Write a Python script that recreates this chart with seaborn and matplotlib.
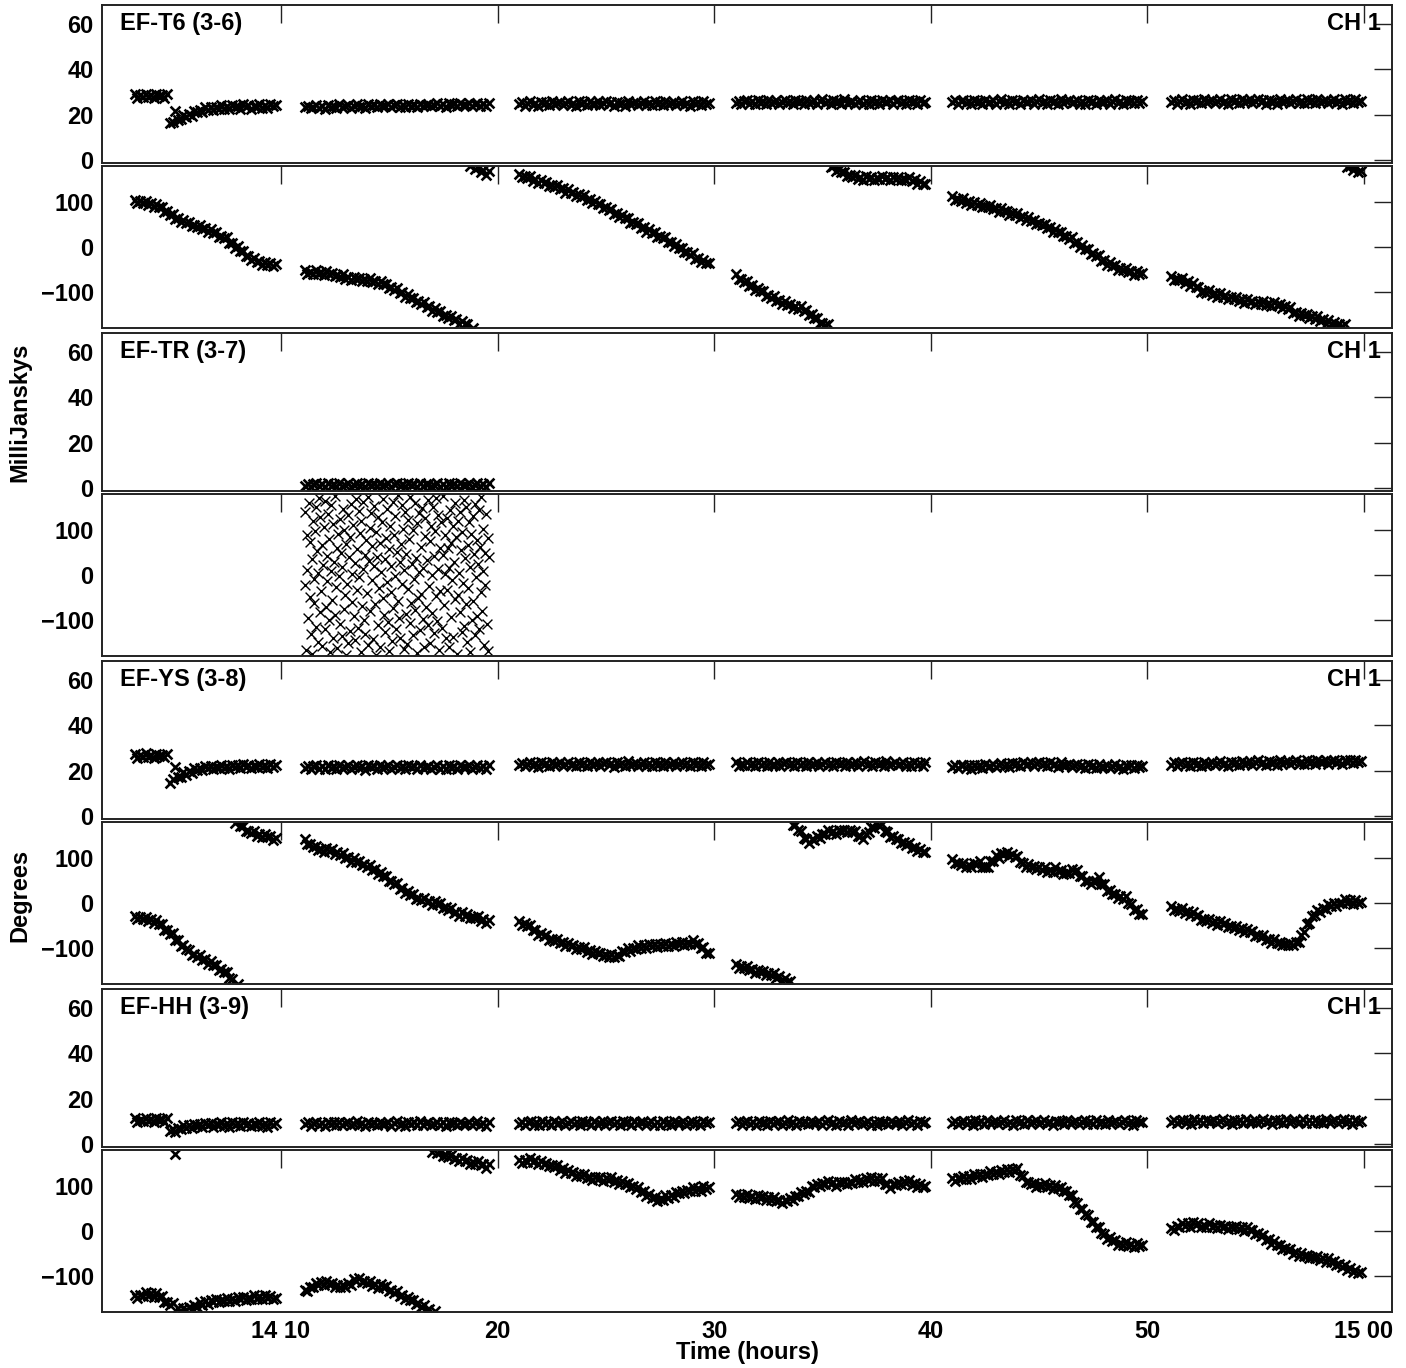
import numpy as np
import pandas as pd
import seaborn as sns
import matplotlib.pyplot as plt
import matplotlib.transforms as mtransforms

# scan start / end times, minutes after 14h00m
scan_start = [3.25, 11.1, 21.0, 31.0, 41.0, 51.1]
scan_end = [9.75, 19.6, 29.75, 39.75, 49.75, 59.85]

baselines = ["EF-T6 (3-6)", "EF-TR (3-7)", "EF-YS (3-8)", "EF-HH (3-9)"]
time_ticks = [10, 20, 30, 40, 50, 60]
time_labels = ["14 10", "20", "30", "40", "50", "15 00"]
amp_ticks = [0, 20, 40, 60]
phase_ticks = [-100, 0, 100]

# ---- EF-T6 -----------------------------------------------------------
t6_amp = [
    [29.0, 27.4, 28.5, 27.9, 29.3, 27.7, 28.7, 27.3, 29.1, 28.1, 28.8, 27.5, 29.2,
     16.2, 16.7, 21.5, 17.7, 17.9, 20.0, 19.0, 20.5, 19.6, 21.8, 21.2, 22.2, 21.2, 23.2,
     22.2, 23.4, 22.0, 23.2, 22.7, 24.2, 22.7, 23.7, 22.4, 24.2, 23.3, 24.0, 22.7, 24.5,
     23.3, 24.3, 22.7, 23.9, 23.3, 24.7, 23.1, 24.1, 22.8, 24.6, 23.6, 24.3],
    [23.2, 24.0, 22.9, 23.4, 24.2, 23.0, 23.8, 22.7, 24.3, 23.4, 23.9, 22.9, 24.5, 23.4,
     23.6, 24.4, 23.1, 23.8, 24.5, 23.2, 24.0, 23.0, 24.6, 23.6, 24.1, 23.2, 24.7, 23.7,
     23.9, 24.6, 23.3, 24.1, 24.8, 23.5, 24.3, 23.2, 24.8, 23.9, 24.4, 23.4, 24.9, 24.0,
     24.2, 24.8, 23.6, 24.3, 25.1, 23.7, 24.5, 23.5, 25.0, 24.2, 24.7, 23.8, 25.1, 24.3,
     24.4, 25.0, 23.7, 24.6, 25.2, 23.9, 24.8, 23.6, 25.1],
    [24.6, 25.6, 24.0, 25.3, 25.9, 24.3, 25.3, 23.9, 25.7, 24.7, 25.4, 24.1, 25.8, 24.6,
     25.0, 25.7, 24.2, 25.1, 26.0, 24.4, 25.2, 24.0, 25.8, 24.8, 25.5, 24.2, 25.9, 24.7,
     24.9, 25.8, 24.1, 25.3, 26.1, 24.5, 25.4, 23.9, 25.7, 24.8, 25.3, 24.0, 26.2, 24.6,
     25.1, 25.6, 24.3, 25.0, 25.9, 24.2, 25.3, 24.1, 25.9, 24.7, 25.4, 24.2, 25.8, 24.8,
     25.0, 25.7, 24.2, 25.2, 26.0, 24.4, 25.3, 24.0, 25.8, 24.8, 25.5, 24.3, 25.9, 24.6, 25.1],
    [25.3, 26.2, 24.6, 25.9, 26.4, 24.9, 25.9, 24.5, 26.3, 25.3, 26.0, 24.7, 26.4, 25.2,
     25.6, 26.3, 24.8, 25.7, 26.6, 25.0, 25.8, 24.6, 26.4, 25.4, 26.1, 24.8, 26.5, 25.3,
     25.5, 26.4, 24.7, 25.9, 26.7, 25.1, 26.0, 24.5, 26.3, 25.4, 25.9, 24.6, 26.8, 25.2,
     25.7, 26.2, 24.9, 25.6, 26.5, 24.8, 25.9, 24.7, 26.5, 25.3, 26.0, 24.8, 26.4, 25.4,
     25.6, 26.3, 24.8, 25.8, 26.6, 25.0, 25.9, 24.6, 26.4, 25.4, 26.1, 24.9, 26.5, 25.2, 25.7],
    [25.4, 26.3, 24.7, 26.0, 26.5, 25.0, 26.0, 24.6, 26.4, 25.4, 26.1, 24.8, 26.5, 25.3,
     25.7, 26.4, 24.9, 25.8, 26.7, 25.1, 25.9, 24.7, 26.5, 25.5, 26.2, 24.9, 26.6, 25.4,
     25.6, 26.5, 24.8, 26.0, 26.8, 25.2, 26.1, 24.6, 26.4, 25.5, 26.0, 24.7, 26.9, 25.3,
     25.8, 26.3, 25.0, 25.7, 26.6, 24.9, 26.0, 24.8, 26.6, 25.4, 26.1, 24.9, 26.5, 25.5,
     25.7, 26.4, 24.9, 25.9, 26.7, 25.1, 26.0, 24.7, 26.5, 25.5, 26.2, 25.0, 26.6, 25.3, 25.8],
    [25.6, 26.5, 24.9, 26.2, 26.7, 25.2, 26.2, 24.8, 26.6, 25.6, 26.3, 25.0, 26.7, 25.5,
     25.9, 26.6, 25.1, 26.0, 26.9, 25.3, 26.1, 24.9, 26.7, 25.7, 26.4, 25.1, 26.8, 25.6,
     25.8, 26.7, 25.0, 26.2, 27.0, 25.4, 26.3, 24.8, 26.6, 25.7, 26.2, 24.9, 27.1, 25.5,
     26.0, 26.5, 25.2, 25.9, 26.8, 25.1, 26.2, 25.0, 26.8, 25.6, 26.3, 25.1, 26.7, 25.7,
     25.9, 26.6, 25.1, 26.1, 26.9, 25.3, 26.2, 24.9, 26.7, 25.7, 26.4, 25.2, 26.8, 25.5, 26.0],
]
t6_phase = [
    [105, 98, 102, 98, 103, 94, 98, 89, 96, 88, 89, 78, 79, 72, 74, 63, 65, 55, 61, 54,
     55, 46, 49, 44, 49, 39, 42, 33, 39, 32, 33, 23, 25, 19, 22, 10, 10, -2, 2, -8,
     -9, -21, -21, -28, -24, -34, -31, -40, -33, -39, -35, -42, -37],
    [-52, -60, -56, -59, -52, -60, -56, -63, -54, -60, -57, -65, -62, -66, -61, -70, -66,
     -74, -66, -71, -68, -75, -71, -75, -69, -78, -75, -83, -76, -83, -82, -91, -89, -95,
     -91, -102, -100, -110, -105, -113, -113, -123, -121, -127, -123, -134, -132, -142,
     -136, -144, -143, -153, -151, -157, -153, -163, -161, -170, -164, -172, -171, 179,
     -179, 173, 177, 167, 170, 161, 169],
    [163, 155, 158, 153, 157, 147, 150, 142, 149, 142, 144, 135, 138, 133, 138, 128, 130,
     121, 128, 121, 123, 114, 117, 111, 115, 104, 106, 97, 103, 95, 96, 86, 88, 82, 85,
     74, 76, 66, 72, 64, 64, 54, 56, 50, 53, 42, 44, 34, 40, 32, 33, 23, 25, 19, 22, 11,
     12, 2, 7, -2, -2, -12, -11, -18, -14, -26, -24, -34, -28, -36, -35],
    [-61, -72, -71, -78, -75, -86, -85, -96, -90, -98, -98, -108, -107, -113, -109, -120,
     -117, -126, -120, -128, -126, -135, -132, -137, -132, -143, -141, -152, -148, -158,
     -158, -169, -168, -174, -171, 178, 179, 168, 174, 166, 166, 157, 159, 155, 160, 152,
     156, 149, 157, 152, 156, 149, 153, 151, 158, 150, 155, 148, 156, 151, 155, 148, 152,
     149, 155, 146, 150, 141, 147, 139, 139],
    [113, 104, 107, 102, 108, 98, 102, 94, 101, 94, 97, 88, 92, 88, 93, 84, 87, 78, 86,
     79, 81, 72, 75, 70, 75, 65, 68, 59, 66, 58, 60, 50, 53, 48, 52, 42, 44, 34, 41, 33,
     34, 24, 25, 18, 22, 10, 11, 0, 5, -4, -4, -15, -14, -21, -18, -30, -29, -40, -34,
     -42, -41, -50, -47, -52, -47, -56, -53, -62, -54, -60, -57],
    [-65, -74, -70, -74, -69, -79, -76, -86, -80, -89, -89, -99, -97, -102, -96, -106,
     -102, -110, -103, -110, -107, -116, -112, -116, -111, -120, -116, -124, -116, -122,
     -119, -127, -123, -126, -120, -128, -124, -132, -123, -129, -126, -135, -132, -138,
     -134, -146, -144, -153, -146, -152, -149, -158, -154, -159, -154, -164, -161, -170,
     -163, -170, -167, -176, -172, -176, -171, 178, 180, 170, 176, 166, 169],
]

# ---- EF-TR (only the second scan has data) ----------------------------
tr_amp = [
    [],
    [1.0, 2.0, 0.4, 1.7, 2.1, 0.7, 1.7, 0.3, 2.1, 1.1, 1.8, 0.5, 2.2, 1.0,
     1.5, 2.1, 0.6, 1.4, 2.4, 0.8, 1.7, 0.3, 2.2, 1.2, 1.8, 0.7, 2.3, 1.1,
     1.3, 2.2, 0.5, 1.6, 2.4, 0.9, 1.7, 0.4, 2.1, 1.3, 1.9, 0.6, 2.4, 1.0,
     1.6, 2.0, 0.7, 1.3, 2.3, 0.6, 1.9, 0.5, 2.2, 1.1, 1.7, 0.7, 2.3, 1.2,
     1.4, 2.1, 0.6, 1.5, 2.4, 0.8, 1.8, 0.4, 2.2],
    [], [], [], [],
]
tr_phase = [
    [],
    [-23, 141, -167, 88, 12, -95, 160, -48, 73, -131, 35, -176, 119, -8, -62, 97, 150,
     -115, 54, -149, 4, 171, -83, 129, -36, 66, -158, 22, 107, -121, 165, -70, 43, -14,
     135, -101, 79, -172, 9, 156, -55, 114, -140, 30, -88, 176, -27, 61, -163, 92, -3,
     125, -109, 48, -136, 17, 146, -76, 101, -45, -178, 70, -19, 133, -152, 39, 85, -124,
     158, -60, 2, 112, -92, 26, -145, 168, -33, 57, -117, 143, -5, 93, -170, 120, -68, 14,
     162, -99, 45, -130, 77, -40, 174, -155, 31, 104, -80, 138, -12, 64, -143, 21, 153,
     -65, 95, -177, 40, -112, 128, -29, 71, -161, 6, 118, -52, 169, -89, 36, -127, 83,
     -16, 147, -104, 58, -168, 110, -38, 19, -147, 163, -74, 90, -2, 131, -119, 51, -57,
     177, -96, 28, -139, 68, 155, -21, 103, -165, 11, 140, -86, 47, -154, 122, -31, 80,
     -107, 173, -63, 24, -133, 99, -9, 159, -78, 38, -174, 115, -50, 7, 137, -123, 62,
     -42, 149, -98, 16, -160, 87, 127, -71, 33, -111, 166, -25, 75, -150, 109, -1, -84,
     152, 42, -128, 98, -47, 170, -103, 13, 134, -166, 59, -35, 117,
     -118, 44, 175, -67, 3, 89, -141, 126, -33, 60, -159, 15, 144, -93, 72, -10, 108,
     -137, 29, 161, -54, 84, -175, 121, -44, 5, 139, -82, 55, -126, 96, -17, 167, -113,
     37, -64, 150, -148, 67, -28, 117, -171, 18, 91, -101, 132, -58, 46, -134, 157, -4,
     78, -90, 25, 145, -120, 63, -37, 173, -79, 10, 102, -156, 50, -22, 136, -108, 82,
     -169, 41],
    [], [], [], [],
]

# ---- EF-YS -----------------------------------------------------------
ys_amp = [
    [27.3, 25.7, 26.8, 26.2, 27.6, 26.0, 27.0, 25.6, 27.4, 26.4, 27.1, 25.8, 27.5,
     14.5, 16.2, 21.5, 17.0, 17.2, 19.3, 18.3, 19.8, 18.8, 21.0, 20.3, 21.3, 20.2, 22.1,
     21.0, 22.1, 20.6, 21.8, 21.2, 22.7, 21.1, 22.1, 20.8, 22.6, 21.6, 22.4, 21.1, 22.8,
     21.6, 22.6, 21.1, 22.2, 21.6, 23.0, 21.4, 22.4, 21.0, 22.8, 21.8, 22.5],
    [21.3, 22.2, 20.7, 21.9, 22.3, 20.9, 22.0, 20.6, 22.5, 21.3, 22.1, 20.8, 22.4, 21.2,
     21.7, 22.3, 20.8, 21.6, 22.6, 21.0, 21.9, 20.5, 22.4, 21.4, 22.0, 20.9, 22.5, 21.3,
     21.5, 22.4, 20.7, 21.8, 22.6, 21.1, 21.9, 20.6, 22.3, 21.5, 22.1, 20.8, 22.6, 21.2,
     21.8, 22.2, 20.9, 21.5, 22.5, 20.8, 22.1, 20.7, 22.4, 21.3, 21.9, 20.9, 22.5, 21.4,
     21.6, 22.3, 20.8, 21.7, 22.6, 21.0, 22.0, 20.6, 22.4],
    [22.5, 23.5, 21.9, 23.1, 23.6, 22.2, 23.2, 21.8, 23.6, 22.6, 23.3, 22.0, 23.7, 22.5,
     22.9, 23.6, 22.1, 23.0, 23.9, 22.3, 23.1, 21.9, 23.7, 22.7, 23.4, 22.1, 23.8, 22.6,
     22.8, 23.7, 22.0, 23.2, 24.0, 22.4, 23.3, 21.8, 23.6, 22.7, 23.2, 21.9, 24.1, 22.5,
     23.0, 23.5, 22.2, 22.9, 23.8, 22.1, 23.2, 22.0, 23.8, 22.6, 23.3, 22.1, 23.7, 22.7,
     22.9, 23.6, 22.1, 23.1, 23.9, 22.3, 23.2, 21.9, 23.7, 22.7, 23.4, 22.2, 23.8, 22.5, 23.0],
    [23.6, 22.0, 23.1, 22.5, 23.9, 22.3, 23.3, 21.9, 23.7, 22.7, 23.4, 22.1, 23.8, 22.6,
     22.6, 23.6, 22.0, 23.2, 23.7, 22.4, 23.3, 21.9, 23.7, 22.7, 23.4, 22.1, 23.8, 22.6,
     23.0, 23.7, 22.2, 23.1, 24.0, 22.4, 23.2, 22.0, 23.8, 22.8, 23.5, 22.2, 23.9, 22.7,
     22.9, 23.8, 22.1, 23.3, 24.1, 22.5, 23.4, 21.9, 23.7, 22.8, 23.3, 22.0, 24.2, 22.6,
     23.1, 23.6, 22.3, 23.0, 23.9, 22.2, 23.3, 22.1, 23.9, 22.7, 23.4, 22.2, 23.8],
    [21.7, 22.6, 21.1, 22.3, 22.7, 21.3, 22.3, 20.9, 22.7, 21.7, 22.4, 21.2, 22.8, 21.6,
     22.2, 22.9, 21.5, 22.5, 23.4, 21.9, 22.8, 21.6, 23.5, 22.5, 23.2, 22.0, 23.7, 22.6,
     22.9, 23.8, 22.1, 23.3, 24.0, 22.4, 23.3, 21.9, 23.6, 22.6, 23.1, 21.8, 23.9, 22.3,
     22.6, 23.0, 21.7, 22.3, 23.1, 21.4, 22.4, 21.2, 22.9, 21.7, 22.3, 21.2, 22.8, 21.7,
     21.8, 22.5, 21.0, 22.0, 22.8, 21.2, 22.1, 20.8, 22.6, 21.6, 22.3, 21.1, 22.7, 21.4, 21.9],
    [22.7, 23.6, 22.1, 23.3, 23.7, 22.3, 23.3, 21.9, 23.7, 22.7, 23.4, 22.2, 23.8, 22.6,
     23.1, 23.8, 22.3, 23.2, 24.1, 22.5, 23.3, 22.1, 23.9, 22.9, 23.6, 22.4, 24.1, 22.9,
     23.3, 24.2, 22.5, 23.7, 24.5, 22.9, 23.8, 22.4, 24.2, 23.2, 23.9, 22.7, 24.6, 23.1,
     23.6, 24.2, 22.9, 23.6, 24.6, 23.0, 23.9, 22.8, 24.7, 23.5, 24.2, 23.0, 24.9, 23.6,
     23.9, 24.6, 23.1, 24.1, 24.9, 23.3, 24.2, 23.0, 24.8, 23.8, 24.5, 23.3, 24.9, 23.7, 24.2],
]
ys_phase = [
    [-29, -36, -32, -36, -30, -39, -35, -44, -38, -47, -47, -59, -59, -68, -67, -82, -83,
     -96, -93, -103, -104, -115, -114, -120, -116, -127, -125, -135, -129, -138, -137,
     -148, -146, -154, -153, -167, -168, 178, -179, 172, 171, 160, 161, 156, 160, 150,
     154, 146, 153, 146, 149, 141, 145],
    [143, 131, 131, 124, 127, 118, 121, 114, 122, 116, 119, 110, 113, 107, 111, 100, 102,
     92, 99, 92, 93, 84, 87, 81, 85, 74, 75, 64, 69, 60, 60, 49, 50, 42, 45, 32, 33, 22,
     27, 18, 19, 9, 11, 6, 11, 2, 5, -4, 4, -3, -1, -11, -9, -15, -11, -22, -19, -28,
     -21, -28, -25, -34, -30, -34, -29, -39, -36, -45, -38],
    [-39, -48, -45, -52, -48, -60, -60, -71, -66, -74, -72, -82, -79, -84, -79, -89, -86,
     -95, -88, -95, -93, -102, -98, -103, -98, -108, -105, -114, -106, -112, -110, -118,
     -115, -119, -113, -120, -115, -118, -106, -108, -101, -106, -100, -102, -93, -100,
     -94, -100, -91, -96, -91, -98, -92, -95, -88, -96, -90, -96, -87, -92, -87, -94, -88,
     -90, -83, -92, -88, -101, -98, -110, -112],
    [-135, -144, -140, -144, -139, -149, -146, -155, -148, -154, -151, -160, -156, -160,
     -155, -166, -163, -173, -167, -175, -174, 174, 173, 162, 160, 145, 142, 134, 142,
     141, 148, 145, 153, 153, 162, 155, 160, 154, 163, 159, 163, 157, 163, 157, 160, 148,
     148, 143, 154, 157, 168, 167, 177, 171, 175, 160, 157, 146, 150, 142, 143, 133, 135,
     129, 133, 122, 124, 115, 121, 113, 113],
    [98, 88, 89, 84, 89, 80, 84, 79, 90, 87, 93, 80, 79, 81, 93, 93, 106, 101, 112, 108,
     113, 104, 108, 102, 105, 91, 90, 80, 86, 80, 83, 75, 79, 74, 79, 70, 74, 69, 80, 72,
     73, 64, 67, 66, 75, 68, 74, 59, 60, 50, 48, 42, 49, 48, 57, 43, 42, 27, 28, 20, 21,
     12, 15, 10, 15, 0, -3, -16, -14, -24, -25],
    [-7, -16, -13, -18, -12, -22, -18, -27, -20, -28, -27, -37, -35, -40, -35, -44, -40,
     -48, -40, -46, -44, -53, -50, -55, -50, -60, -56, -65, -58, -65, -63, -73, -71, -76,
     -72, -82, -79, -88, -81, -88, -86, -94, -91, -94, -88, -94, -86, -86, -71, -64, -47,
     -44, -29, -27, -15, -19, -10, -14, -2, -6, 0, -6, 1, 0, 8, 0, 6, -2, 6, 0, 3],
]

# ---- EF-HH -----------------------------------------------------------
hh_amp = [
    [11.3, 9.7, 10.8, 10.2, 11.6, 10.0, 11.0, 9.6, 11.4, 10.4, 11.1, 9.8, 11.5,
     5.7, 6.5, 5.4, 7.0, 6.8, 8.5, 7.2, 8.4, 7.1, 9.0, 8.1, 8.9, 7.6, 9.4, 8.2, 9.2, 7.7,
     8.8, 8.2, 9.6, 8.1, 9.1, 7.7, 9.5, 8.5, 9.2, 7.9, 9.6, 8.4, 9.4, 7.8, 8.9, 8.3, 9.7,
     8.1, 9.1, 7.7, 9.5, 8.5, 9.2],
    [8.7, 9.6, 8.1, 9.3, 9.7, 8.3, 9.4, 8.0, 9.9, 8.7, 9.5, 8.2, 9.8, 8.6,
     9.1, 9.7, 8.2, 9.0, 10.0, 8.4, 9.3, 7.9, 9.8, 8.8, 9.4, 8.3, 9.9, 8.7,
     8.9, 9.8, 8.1, 9.2, 10.0, 8.5, 9.3, 8.0, 9.7, 8.9, 9.5, 8.2, 10.0, 8.6,
     9.2, 9.6, 8.3, 8.9, 9.9, 8.2, 9.5, 8.1, 9.8, 8.7, 9.3, 8.3, 9.9, 8.8,
     9.0, 9.7, 8.2, 9.1, 10.0, 8.4, 9.4, 8.0, 9.8],
    [9.0, 9.9, 8.4, 9.6, 10.0, 8.6, 9.7, 8.3, 10.2, 9.0, 9.8, 8.5, 10.1, 8.9,
     9.4, 10.0, 8.5, 9.3, 10.3, 8.7, 9.6, 8.2, 10.1, 9.1, 9.7, 8.6, 10.2, 9.0,
     9.2, 10.1, 8.4, 9.5, 10.3, 8.8, 9.6, 8.3, 10.0, 9.2, 9.8, 8.5, 10.3, 8.9,
     9.5, 9.9, 8.6, 9.2, 10.2, 8.5, 9.8, 8.4, 10.1, 9.0, 9.6, 8.6, 10.2, 9.1,
     9.3, 10.0, 8.5, 9.4, 10.3, 8.7, 9.7, 8.3, 10.1, 9.2, 9.5],
    [9.1, 10.0, 8.5, 9.7, 10.1, 8.7, 9.8, 8.4, 10.3, 9.1, 9.9, 8.6, 10.2, 9.0,
     9.5, 10.1, 8.6, 9.4, 10.4, 8.8, 9.7, 8.3, 10.2, 9.2, 9.8, 8.7, 10.3, 9.1,
     9.3, 10.2, 8.5, 9.6, 10.4, 8.9, 9.7, 8.4, 10.1, 9.3, 9.9, 8.6, 10.4, 9.0,
     9.6, 10.0, 8.7, 9.3, 10.3, 8.6, 9.9, 8.5, 10.2, 9.1, 9.7, 8.7, 10.3, 9.2,
     9.4, 10.1, 8.6, 9.5, 10.4, 8.8, 9.8, 8.4, 10.2, 9.3, 9.6],
    [9.3, 10.2, 8.7, 9.9, 10.3, 8.9, 10.0, 8.6, 10.5, 9.3, 10.1, 8.8, 10.4, 9.2,
     9.7, 10.3, 8.8, 9.6, 10.6, 9.0, 9.9, 8.5, 10.4, 9.4, 10.0, 8.9, 10.5, 9.3,
     9.5, 10.4, 8.7, 9.8, 10.6, 9.1, 9.9, 8.6, 10.3, 9.5, 10.1, 8.8, 10.6, 9.2,
     9.8, 10.2, 8.9, 9.5, 10.5, 8.8, 10.1, 8.7, 10.4, 9.3, 9.9, 8.9, 10.5, 9.4,
     9.6, 10.3, 8.8, 9.7, 10.6, 9.0, 10.0, 8.6, 10.4, 9.5, 9.8],
    [9.7, 10.6, 9.1, 10.3, 10.7, 9.3, 10.4, 9.0, 10.9, 9.7, 10.5, 9.2, 10.8, 9.6,
     10.1, 10.7, 9.2, 10.0, 11.0, 9.4, 10.3, 8.9, 10.8, 9.8, 10.4, 9.3, 10.9, 9.7,
     9.9, 10.8, 9.1, 10.2, 11.0, 9.5, 10.3, 9.0, 10.7, 9.9, 10.5, 9.2, 11.0, 9.6,
     10.2, 10.6, 9.3, 9.9, 10.9, 9.2, 10.5, 9.1, 10.8, 9.7, 10.3, 9.3, 10.9, 9.8,
     10.0, 10.7, 9.2, 10.1, 11.0, 9.4, 10.4, 9.0, 10.8, 9.9, 10.2],
]
hh_phase = [
    [-142, -148, -142, -144, -136, -144, -138, -146, -138, -146, -145, -157, -157, -164,
     -160, 171, -170, -179, -172, -175, -169, -173, -164, -169, -158, -164, -156, -163,
     -153, -157, -152, -158, -153, -156, -148, -156, -150, -156, -147, -152, -147, -154,
     -148, -150, -143, -150, -145, -152, -142, -148, -144, -152, -149],
    [-130, -134, -125, -125, -115, -121, -114, -120, -111, -118, -115, -124, -121, -125,
     -119, -124, -116, -119, -106, -110, -105, -114, -111, -116, -112, -122, -118, -126,
     -118, -125, -123, -133, -131, -137, -133, -144, -142, -152, -146, -154, -153, -163,
     -161, -168, -164, -176, -174, 176, -178, 174, 175, 166, 168, 164, 169, 160, 163, 155,
     162, 156, 158, 150, 153, 149, 155, 146, 149, 141, 148],
    [157, 151, 157, 154, 162, 153, 157, 148, 156, 150, 152, 144, 147, 142, 147, 136, 139,
     130, 136, 129, 131, 122, 126, 122, 127, 118, 121, 113, 121, 116, 119, 112, 117, 114,
     120, 110, 114, 105, 112, 105, 107, 98, 100, 94, 98, 86, 88, 78, 83, 74, 75, 67, 71,
     70, 79, 74, 81, 76, 87, 84, 90, 84, 91, 89, 97, 90, 96, 90, 99, 94, 97],
    [83, 75, 79, 76, 82, 74, 78, 71, 80, 74, 78, 70, 75, 70, 76, 66, 70, 62, 70, 67, 73,
     69, 77, 77, 87, 82, 90, 86, 99, 98, 105, 100, 107, 104, 112, 104, 108, 101, 110, 106,
     110, 104, 109, 107, 115, 108, 114, 108, 118, 114, 119, 112, 118, 112, 117, 104, 104,
     96, 104, 102, 109, 104, 111, 107, 113, 103, 106, 97, 104, 98, 101],
    [117, 111, 117, 115, 123, 116, 122, 116, 126, 122, 127, 121, 127, 125, 133, 126, 132,
     126, 136, 132, 137, 131, 137, 134, 140, 124, 122, 108, 110, 104, 106, 98, 103, 100,
     106, 98, 102, 94, 102, 96, 98, 88, 89, 80, 80, 64, 62, 48, 50, 38, 35, 21, 19, 10,
     10, -4, -6, -18, -14, -22, -21, -30, -27, -31, -25, -33, -28, -36, -27, -34, -31],
    [7, 3, 11, 10, 18, 11, 17, 10, 19, 14, 17, 10, 14, 10, 17, 8, 13, 6, 14, 8, 12, 4, 9,
     6, 12, 4, 8, 0, 9, 2, 3, -7, -5, -12, -8, -20, -18, -28, -23, -31, -30, -40, -37,
     -43, -39, -50, -47, -56, -49, -56, -53, -61, -57, -61, -55, -64, -60, -68, -61, -68,
     -67, -76, -74, -80, -75, -86, -83, -92, -86, -94, -92],
]


def to_frame(scans):
    # spread each scan's samples evenly between its start and end time
    parts = []
    for i, vals in enumerate(scans):
        if len(vals) == 0:
            continue
        t = np.linspace(scan_start[i], scan_end[i], len(vals))
        parts.append(pd.DataFrame({"time": t, "value": vals}))
    return pd.concat(parts, ignore_index=True)


sns.set_theme(style="white")
plt.rcParams["font.family"] = ["Liberation Sans", "DejaVu Sans"]
plt.rcParams["font.weight"] = "bold"
for key in ["text.color", "axes.labelcolor", "xtick.color", "ytick.color"]:
    plt.rcParams[key] = "black"

W, H = 1406, 1368
fig = plt.figure(figsize=(W / 100, H / 100), dpi=100)

x_left, x_right = 102, 1392
series = [(t6_amp, t6_phase), (tr_amp, tr_phase), (ys_amp, ys_phase), (hh_amp, hh_phase)]


def make_axes(y0, y1):
    return fig.add_axes([x_left / W, 1 - y1 / H, (x_right - x_left) / W, (y1 - y0) / H])


def style_axes(ax, is_bottom):
    ax.set_xlim(1.74, 61.29)
    ax.set_xticks(time_ticks)
    if is_bottom:
        ax.set_xticklabels(time_labels)
    else:
        ax.set_xticklabels([])
    ax.tick_params(direction="in", length=13, width=1.0, color="#222222",
                   top=True, right=True, labelsize=17, pad=6)
    for s in ax.spines.values():
        s.set_color("#222222")
        s.set_linewidth(1.4)
    ax.set_xlabel("")
    ax.set_ylabel("")


def draw(ax, scans, lw):
    sns.scatterplot(data=to_frame(scans), x="time", y="value", marker="x", s=50,
                    color="black", linewidth=lw, ax=ax, legend=False)


for i, (name, (amp, phase)) in enumerate(zip(baselines, series)):
    top = 5 + 328 * i
    ax_a = make_axes(top, top + 158)
    ax_p = make_axes(top + 161, top + 323)

    draw(ax_a, amp, 1.9)
    # the noisy EF-TR phases are sparse single crosses, drawn thinner
    draw(ax_p, phase, 1.0 if name.startswith("EF-TR") else 1.9)

    ax_a.set_ylim(-1.3, 68.3)
    ax_a.set_yticks(amp_ticks)
    ax_p.set_ylim(-180, 180)
    ax_p.set_yticks(phase_ticks)
    style_axes(ax_a, False)
    style_axes(ax_p, i == len(baselines) - 1)

    trans = mtransforms.blended_transform_factory(ax_a.transAxes, ax_a.transData)
    ax_a.text(0.014, 60, name, transform=trans, ha="left", va="center",
              fontsize=17, fontweight="bold")
    ax_a.text(0.991, 60, "CH 1", transform=trans, ha="right", va="center",
              fontsize=17, fontweight="bold")

fig.text(747 / W, 1 - 1352 / H, "Time (hours)", ha="center", va="center",
         fontsize=17, fontweight="bold")
fig.text(20 / W, 1 - 412 / H, "MilliJanskys", ha="center", va="center",
         rotation=90, fontsize=17, fontweight="bold")
fig.text(20 / W, 1 - 895 / H, "Degrees", ha="center", va="center",
         rotation=90, fontsize=17, fontweight="bold")

fig.savefig("out.png", dpi=100)
